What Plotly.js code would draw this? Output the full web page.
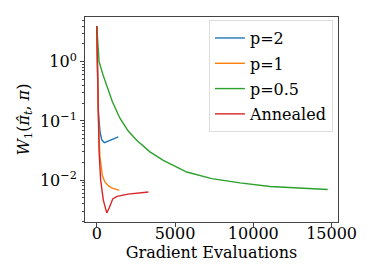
<!DOCTYPE html>
<html>
<head>
<meta charset="utf-8">
<script src="https://cdn.plot.ly/plotly-3.0.1.min.js"></script>
<style>html,body{margin:0;padding:0;background:#fff;}#chart{width:374px;height:280px;}</style>
</head>
<body>
<div id="chart"></div>
<script>
// p=2
const p2X = [0, 40, 100, 210, 320, 490, 700, 1000, 1380];
const p2Y = [4.0, 0.8, 0.15, 0.065, 0.048, 0.043, 0.045, 0.049, 0.0536];
// p=1
const p1X = [0, 50, 100, 200, 360, 500, 750, 1000, 1440];
const p1Y = [4.0, 0.8, 0.12, 0.025, 0.012, 0.0095, 0.0080, 0.0073, 0.0067];
// p=0.5
const p05X = [0, 60, 150, 400, 740, 1000, 1490, 2000, 2550, 3400, 4250, 5750, 7340, 9150, 11070, 12770, 14750];
const p05Y = [4.0, 1.8, 1.0, 0.6, 0.33, 0.21, 0.11, 0.068, 0.047, 0.030, 0.0216, 0.0137, 0.0106, 0.0090, 0.0078, 0.0073, 0.00695];
// Annealed
const annX = [0, 50, 100, 150, 250, 420, 640, 800, 1020, 1300, 2000, 2700, 3300];
const annY = [4.0, 0.8, 0.12, 0.03, 0.01, 0.0046, 0.0028, 0.0034, 0.0048, 0.0053, 0.0058, 0.0061, 0.0063];

const seriesNames = ['p=2', 'p=1', 'p=0.5', 'Annealed'];
const seriesColors = ['#1f77b4', '#ff7f0e', '#2ca02c', '#d62728'];
const xs = [p2X, p1X, p05X, annX];
const ys = [p2Y, p1Y, p05Y, annY];

const xTicks = [0, 5000, 10000, 15000];
const yTicks = [1, 0.1, 0.01];
const yTickText = ['10<sup>0</sup>', '10<sup>\u22121</sup>', '10<sup>\u22122</sup>'];

const minorVals = [];
for (let e = -3; e <= 0; e++) {
  for (let m = 2; m <= 9; m++) minorVals.push(m * Math.pow(10, e));
}

const traces = seriesNames.map((n, i) => ({
  x: xs[i], y: ys[i], name: n, type: 'scatter', mode: 'lines',
  legendgroup: 'g' + i,
  line: {color: seriesColors[i], width: 1.4}
}));

const font = {family: 'DejaVu Serif', size: 16, color: '#000'};
const axisCol = '#444';

const layout = {
  width: 374, height: 280,
  margin: {l: 85, r: 36, t: 17, b: 58},
  paper_bgcolor: '#fff', plot_bgcolor: '#fff',
  font: font,
  showlegend: true,
  legend: {
    x: 0.98, y: 0.985, xanchor: 'right', yanchor: 'top',
    bgcolor: 'rgba(255,255,255,0.8)', bordercolor: '#dddddd', borderwidth: 1,
    font: {family: 'DejaVu Serif', size: 16, color: '#000'},
    tracegroupgap: 1.5
  },
  xaxis: {
    range: [-750, 15410], tickvals: xTicks, ticktext: xTicks.map(String),
    showgrid: false, zeroline: false, showline: true, mirror: true,
    linecolor: axisCol, linewidth: 1, ticks: 'outside', ticklen: 4, tickcolor: axisCol,
    tickfont: font, ticklabelstandoff: -7,
    title: {text: 'Gradient Evaluations', font: font, standoff: 2}
  },
  yaxis: {
    type: 'log', range: [Math.log10(0.00196), Math.log10(5.7)],
    tickvals: yTicks, ticktext: yTickText,
    showgrid: false, zeroline: false, showline: true, mirror: true,
    linecolor: axisCol, linewidth: 1, ticks: 'outside', ticklen: 4, tickcolor: axisCol,
    tickfont: font,
    minor: {tickvals: minorVals, ticks: 'outside', ticklen: 2, tickcolor: axisCol, showgrid: false},
    title: {text: '<i>W</i><sub>1</sub>(<i>\u03c0\u0302</i><sub><i>t</i></sub>, <i>\u03c0</i>)', font: font, standoff: 6}
  }
};

Plotly.newPlot('chart', traces, layout, {staticPlot: true, displayModeBar: false});
</script>
</body>
</html>
